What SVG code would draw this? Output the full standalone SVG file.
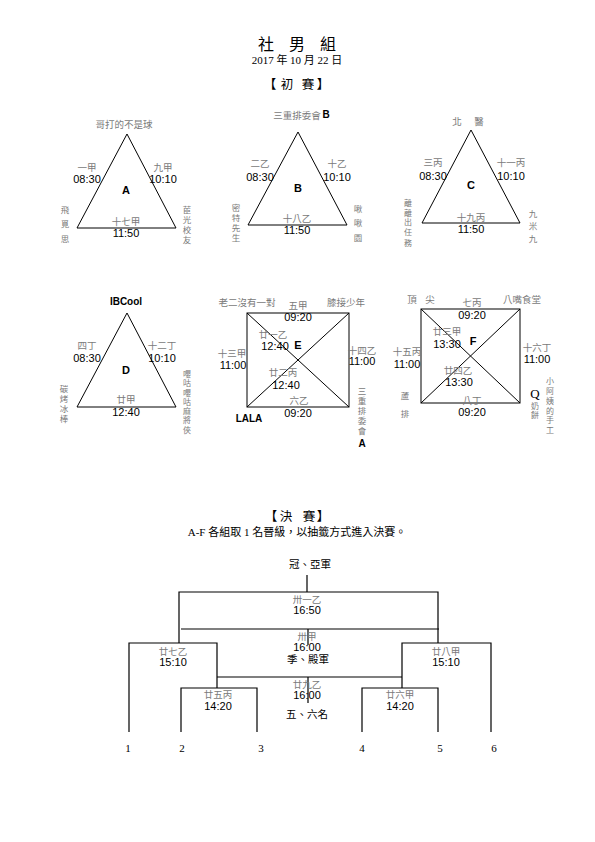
<svg xmlns="http://www.w3.org/2000/svg" width="595" height="842" viewBox="0 0 595 842">
<style>
text{dominant-baseline:central;text-anchor:middle}
.cj{font-family:"Noto Sans CJK TC","Noto Sans CJK SC",sans-serif}
.g{font-family:"Noto Sans CJK TC","Noto Sans CJK SC",sans-serif;font-size:9.5px;fill:#7a7a7a}
.v{font-family:"Noto Sans CJK TC","Noto Sans CJK SC",sans-serif;font-size:8.5px;fill:#7a7a7a}
.vs{font-family:"Noto Sans CJK TC","Noto Sans CJK SC",sans-serif;font-size:8px;fill:#7a7a7a}
.tm{font-family:"Liberation Sans",Arial,sans-serif;font-size:11px;fill:#000}
.lt{font-family:"Liberation Sans",Arial,sans-serif;font-size:11px;font-weight:bold;fill:#000}
.nm{font-family:"Liberation Sans",Arial,sans-serif;font-size:10px;font-weight:bold;fill:#000}
.sh{fill:none;stroke:#000;stroke-width:1}
.br{fill:none;stroke:#000;stroke-width:1.2}
.hd{font-family:"Liberation Serif","Noto Sans CJK TC",serif;fill:#000}
.num{font-family:"Liberation Serif",serif;font-size:11px;fill:#000}
</style>
<rect width="595" height="842" fill="#fff"/>

<g id="header">
<text class="cj" x="266" y="43" font-size="16">社</text>
<text class="cj" x="297" y="43" font-size="16">男</text>
<text class="cj" x="328" y="43" font-size="16">組</text>
<text class="hd" x="297" y="60" font-size="11">2017 年 10 月 22 日</text>
<text class="cj" x="270" y="83" font-size="12.5">【</text>
<text class="cj" x="287" y="83" font-size="12.5">初</text>
<text class="cj" x="308" y="83" font-size="12.5">賽</text>
<text class="cj" x="323" y="83" font-size="12.5">】</text>
</g>

<g id="groupA">
<polygon class="sh" points="127,134 77,228 176,228"/>
<text class="g" x="124" y="124">哥打的不是球</text>
<text class="g" x="87" y="167">一甲</text>
<text class="tm" x="87" y="179">08:30</text>
<text class="g" x="163" y="167">九甲</text>
<text class="tm" x="163" y="179">10:10</text>
<text class="lt" x="126" y="190">A</text>
<text class="g" x="126" y="221">十七甲</text>
<text class="tm" x="126" y="233">11:50</text>
<text class="v"><tspan x="65" y="209">飛</tspan><tspan x="65" y="223">覓</tspan><tspan x="65" y="238">思</tspan></text>
<text class="v"><tspan x="187" y="209">茞</tspan><tspan x="187" y="219">光</tspan><tspan x="187" y="229">校</tspan><tspan x="187" y="239">友</tspan></text>
</g>

<g id="groupB">
<polygon class="sh" points="298,132 248,225 347,225"/>
<text class="g" x="297" y="115">三重排委會</text>
<text class="nm" x="326" y="114" font-size="8">B</text>
<text class="g" x="260" y="163">二乙</text>
<text class="tm" x="260" y="177">08:30</text>
<text class="g" x="337" y="163">十乙</text>
<text class="tm" x="337" y="177">10:10</text>
<text class="lt" x="298" y="188">B</text>
<text class="g" x="297" y="218">十八乙</text>
<text class="tm" x="297" y="230">11:50</text>
<text class="v"><tspan x="236" y="207">密</tspan><tspan x="236" y="217">特</tspan><tspan x="236" y="227">先</tspan><tspan x="236" y="237">生</tspan></text>
<text class="v"><tspan x="358" y="208">啾</tspan><tspan x="358" y="222">啾</tspan><tspan x="358" y="237">園</tspan></text>
</g>

<g id="groupC">
<polygon class="sh" points="471,130 422,223 520,223"/>
<text class="g" x="457" y="121">北</text>
<text class="g" x="479" y="121">醫</text>
<text class="g" x="433" y="162">三丙</text>
<text class="tm" x="433" y="176">08:30</text>
<text class="g" x="511" y="162">十一丙</text>
<text class="tm" x="511" y="176">10:10</text>
<text class="lt" x="471" y="185">C</text>
<text class="g" x="471" y="217">十九丙</text>
<text class="tm" x="471" y="229">11:50</text>
<text class="vs"><tspan x="408" y="202">離</tspan><tspan x="408" y="211.5">離</tspan><tspan x="408" y="221">出</tspan><tspan x="408" y="231">任</tspan><tspan x="408" y="242">務</tspan></text>
<text class="v"><tspan x="533" y="213">九</tspan><tspan x="533" y="225">米</tspan><tspan x="533" y="238">九</tspan></text>
</g>

<g id="groupD">
<polygon class="sh" points="127,313 77,407 176,407"/>
<text class="nm" x="126" y="301">IBCool</text>
<text class="g" x="87" y="345">四丁</text>
<text class="tm" x="87" y="358">08:30</text>
<text class="g" x="162" y="345">十二丁</text>
<text class="tm" x="162" y="358">10:10</text>
<text class="lt" x="126" y="370">D</text>
<text class="g" x="126" y="399">廿甲</text>
<text class="tm" x="126" y="412">12:40</text>
<text class="v"><tspan x="64" y="388">碳</tspan><tspan x="64" y="398">烤</tspan><tspan x="64" y="408">冰</tspan><tspan x="64" y="418">棒</tspan></text>
<text class="vs"><tspan x="187" y="373">嚶</tspan><tspan x="187" y="382">咕</tspan><tspan x="187" y="391.5">嚶</tspan><tspan x="187" y="400.5">咕</tspan><tspan x="187" y="410">麻</tspan><tspan x="187" y="419">將</tspan><tspan x="187" y="428.5">俠</tspan></text>
</g>

<g id="groupE">
<rect class="sh" x="247" y="313" width="102" height="94"/>
<line class="sh" x1="247" y1="313" x2="349" y2="407"/>
<line class="sh" x1="349" y1="313" x2="247" y2="407"/>
<text class="g" x="247" y="302">老二沒有一對</text>
<text class="g" x="298" y="305">五甲</text>
<text class="tm" x="298" y="317">09:20</text>
<text class="g" x="346" y="302">膝接少年</text>
<text class="g" x="273" y="334">廿一乙</text>
<text class="tm" x="275" y="346">12:40</text>
<text class="lt" x="298" y="345">E</text>
<text class="g" x="232" y="353">十三甲</text>
<text class="tm" x="233" y="365">11:00</text>
<text class="g" x="362" y="350">十四乙</text>
<text class="tm" x="362" y="361">11:00</text>
<text class="g" x="283" y="372">廿二丙</text>
<text class="tm" x="286" y="385">12:40</text>
<text class="g" x="299" y="400">六乙</text>
<text class="tm" x="298" y="413">09:20</text>
<text class="nm" x="249" y="418">LALA</text>
<text class="v"><tspan x="362" y="390">三</tspan><tspan x="362" y="400">重</tspan><tspan x="362" y="410">排</tspan><tspan x="362" y="420">委</tspan><tspan x="362" y="430">會</tspan></text>
<text class="nm" x="362" y="443" font-size="8">A</text>
</g>

<g id="groupF">
<rect class="sh" x="421" y="309" width="99" height="94"/>
<line class="sh" x1="421" y1="309" x2="520" y2="403"/>
<line class="sh" x1="520" y1="309" x2="421" y2="403"/>
<text class="g" x="412" y="299">頂</text>
<text class="g" x="430" y="299">尖</text>
<text class="g" x="472" y="302">七丙</text>
<text class="tm" x="472" y="315">09:20</text>
<text class="g" x="522" y="299">八嘴食堂</text>
<text class="g" x="447" y="331">廿三甲</text>
<text class="tm" x="447" y="344">13:30</text>
<text class="lt" x="473" y="341">F</text>
<text class="g" x="407" y="351">十五丙</text>
<text class="tm" x="407" y="364">11:00</text>
<text class="g" x="537" y="347">十六丁</text>
<text class="tm" x="537" y="359">11:00</text>
<text class="g" x="458" y="370">廿四乙</text>
<text class="tm" x="459" y="382">13:30</text>
<text class="g" x="472" y="400">八丁</text>
<text class="tm" x="472" y="412">09:20</text>
<text class="v" x="405" y="395">蘆</text>
<text class="v" x="405" y="413">排</text>
<text class="hd" x="535" y="393" font-size="13" fill="#555">Q</text>
<text class="vs"><tspan x="535" y="405">奶</tspan><tspan x="535" y="414">餅</tspan></text>
<text class="vs"><tspan x="550" y="380">小</tspan><tspan x="550" y="389.5">阿</tspan><tspan x="550" y="399.5">姨</tspan><tspan x="550" y="409.5">的</tspan><tspan x="550" y="419">手</tspan><tspan x="550" y="429">工</tspan></text>
</g>

<g id="finalsHeader">
<text class="cj" x="271" y="515" font-size="12.5">【</text>
<text class="cj" x="286" y="515" font-size="12.5">決</text>
<text class="cj" x="309" y="515" font-size="12.5">賽</text>
<text class="cj" x="323" y="515" font-size="12.5">】</text>
<text class="hd" x="297" y="532" font-size="11">A-F 各組取 1 名晉級，以抽籤方式進入決賽。</text>
</g>

<g id="connectors">
<path class="br" d="M307,575 V592 M179,643 V592 H438 V643 M181,629 H439 M308,629 V645"/>
<path class="br" d="M129,732 V643 H217 V677 M491,732 V643 H402 V677 M217,677 H402 M308,677 V703"/>
<path class="br" d="M181,732 V688 H257 V732 M217,677 V688"/>
<path class="br" d="M362,732 V688 H438 V732 M402,677 V688"/>
</g>

<g id="bracketLabels">
<text class="cj" x="310" y="563" font-size="10.5">冠、亞軍</text>
<text class="g" x="307" y="599">卅一乙</text>
<text class="tm" x="307" y="610">16:50</text>
<text class="g" x="307" y="636">卅甲</text>
<text class="tm" x="307" y="647">16:00</text>
<text class="cj" x="308" y="658" font-size="10.5">季、殿軍</text>
<text class="g" x="173" y="651">廿七乙</text>
<text class="tm" x="173" y="662">15:10</text>
<text class="g" x="446" y="651">廿八甲</text>
<text class="tm" x="446" y="662">15:10</text>
<text class="g" x="218" y="694">廿五丙</text>
<text class="tm" x="218" y="706">14:20</text>
<text class="g" x="400" y="694">廿六甲</text>
<text class="tm" x="400" y="706">14:20</text>
<text class="g" x="307" y="684">廿九乙</text>
<text class="tm" x="307" y="695">16:00</text>
<text class="cj" x="307" y="713" font-size="10.5">五、六名</text>
<text class="num" x="128" y="748">1</text>
<text class="num" x="182" y="748">2</text>
<text class="num" x="261" y="748">3</text>
<text class="num" x="362" y="748">4</text>
<text class="num" x="440" y="748">5</text>
<text class="num" x="494" y="748">6</text>
</g>
</svg>
